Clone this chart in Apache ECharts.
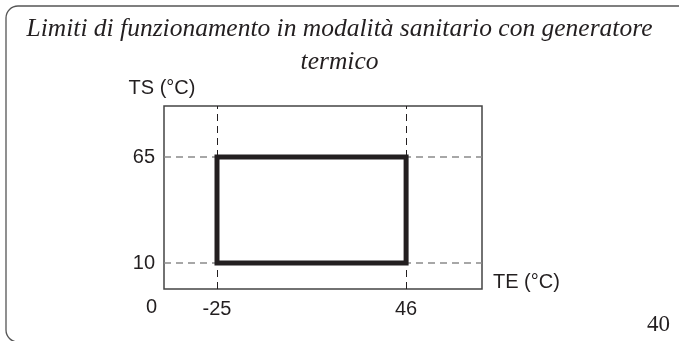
<!DOCTYPE html>
<html>
<head>
<meta charset="utf-8">
<script src="https://cdn.jsdelivr.net/npm/echarts@6/dist/echarts.min.js"></script>
<style>
  html, body { margin: 0; padding: 0; background: #fff; }
  #chart { width: 679px; height: 341px; }
</style>
</head>
<body>
<div id="chart"></div>
<script>
// limiti di funzionamento (schema)
const titleLines = ['Limiti di funzionamento in modalità sanitario con generatore', 'termico'];
const teLimits = [-25, 46];   // TE (°C)
const tsLimits = [10, 65];    // TS (°C)
const xName = 'TE (°C)';
const yName = 'TS (°C)';
const originLabel = '0';
const pageNumber = '40';

const chart = echarts.init(document.getElementById('chart'));

// rettangolo del campo di funzionamento
const boxPoints = [
    [teLimits[0], tsLimits[0]],
    [teLimits[1], tsLimits[0]],
    [teLimits[1], tsLimits[1]],
    [teLimits[0], tsLimits[1]],
    [teLimits[0], tsLimits[0]]
];

const labelFont = { fontFamily: 'Liberation Sans, Arial, sans-serif', fontSize: 20, color: '#231f20' };
const sansFont = '20px "Liberation Sans", Arial, sans-serif';

chart.setOption({
    animation: false,
    backgroundColor: '#ffffff',
    title: {
        text: titleLines.join('\n'),
        left: 'center',
        top: 8,
        textStyle: {
            fontFamily: 'Liberation Serif, serif',
            fontStyle: 'italic',
            fontWeight: 'normal',
            fontSize: 25.5,
            lineHeight: 33,
            color: '#231f20'
        }
    },
    grid: {
        left: 164, top: 106, right: 197, bottom: 52,
        show: true, borderColor: '#444', borderWidth: 1.5, backgroundColor: 'transparent'
    },
    xAxis: {
        type: 'value', min: -44.9, max: 74.5,
        name: xName, nameLocation: 'end', nameGap: 11,
        nameTextStyle: labelFont,
        axisLine: { show: false }, axisTick: { show: false }, splitLine: { show: false },
        axisLabel: { customValues: teLimits, margin: 10, ...labelFont }
    },
    yAxis: {
        type: 'value', min: -3.5, max: 91.5,
        axisLine: { show: false }, axisTick: { show: false }, splitLine: { show: false },
        axisLabel: { customValues: tsLimits, margin: 9, ...labelFont }
    },
    series: [{
        type: 'line',
        data: boxPoints,
        symbol: 'none',
        lineStyle: { color: '#231f20', width: 5, cap: 'square', join: 'miter' },
        z: 5,
        markLine: {
            silent: true,
            symbol: 'none',
            label: { show: false },
            data: [
                ...tsLimits.map(v => ({ yAxis: v, lineStyle: { color: '#8a8a8a', width: 1.5, type: [7, 5] } })),
                ...teLimits.map(v => ({ xAxis: v, lineStyle: { color: '#231f20', width: 1, type: [7, 5] } }))
            ]
        }
    }],
    graphic: [
        {
            type: 'rect', silent: true,
            shape: { x: 6, y: 6, width: 800, height: 336, r: 12 },
            style: { fill: 'none', stroke: '#555', lineWidth: 1.3 }
        },
        {
            // nome asse Y sopra l'asse
            type: 'text', x: 162, y: 88,
            style: { text: yName, font: sansFont, fill: '#231f20', align: 'center', verticalAlign: 'middle' }
        },
        {
            type: 'text', left: 146, top: 297,
            style: { text: originLabel, font: sansFont, fill: '#231f20' }
        },
        {
            type: 'text', left: 647, top: 313,
            style: { text: pageNumber, font: '23px "Liberation Serif", serif', fill: '#231f20' }
        }
    ]
});

window.addEventListener('resize', () => chart.resize());
</script>
</body>
</html>
